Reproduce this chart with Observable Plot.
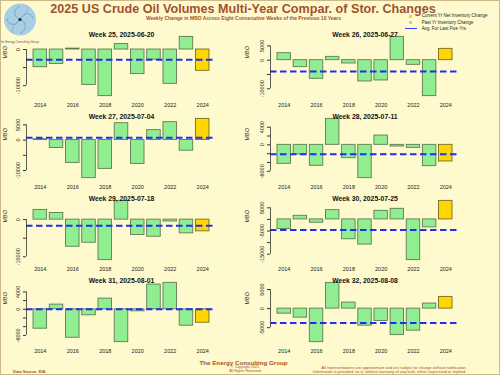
<!DOCTYPE html>
<html><head><meta charset="utf-8">
<script src="https://cdn.jsdelivr.net/npm/d3@7"></script>
<script src="https://cdn.jsdelivr.net/npm/@observablehq/plot@0.6"></script>
<style>
body{margin:0;background:#FFFACD;}
#chart{position:relative;width:500px;height:375px;background:#FFFACD;overflow:hidden;font-family:"Liberation Sans",Arial,Helvetica,sans-serif;}
#frame{position:absolute;left:0;top:0;width:500px;height:375px;box-sizing:border-box;border:1px solid #cbb98c;pointer-events:none;}
.c{position:absolute;white-space:nowrap;line-height:1;transform:translate(-50%,-50%);}
.l{position:absolute;white-space:nowrap;line-height:0.9;transform:translate(0,-50%);}
.panel{position:absolute;}
</style></head>
<body>
<div id="chart">
  <svg id="logo" style="position:absolute;left:2px;top:1px" width="36" height="38" viewBox="0 0 36 38">
    <circle cx="18" cy="18.5" r="16" fill="#a9cfe6"/>
    <path d="M18 18.5 C 22 10, 30 12, 31 18" fill="none" stroke="#5d86a8" stroke-width="0.6"/>
    <path d="M18 18.5 C 26 22, 24 30, 18 32" fill="none" stroke="#5d86a8" stroke-width="0.6"/>
    <path d="M18 18.5 C 14 26, 6 24, 5 18" fill="none" stroke="#5d86a8" stroke-width="0.6"/>
    <path d="M18 18.5 C 10 15, 12 7, 18 5" fill="none" stroke="#5d86a8" stroke-width="0.6"/>
    <path d="M18 18.5 C 24 14, 28 6, 24 4" fill="none" stroke="#7aa0bf" stroke-width="0.5"/>
    <path d="M18 18.5 C 12 23, 8 30, 12 33" fill="none" stroke="#7aa0bf" stroke-width="0.5"/>
    <circle cx="18" cy="18.5" r="1.6" fill="#1e2b3a"/>
  </svg>
  <div class="c" style="left:19px;top:41.5px;font-size:3px;color:#555">The Energy Consulting Group</div>

  <div class="c" style="left:243px;top:8.8px;font-size:12.6px;line-height:0.82;font-weight:bold;color:#A0522D">2025 US Crude Oil Volumes Multi-Year Compar. of Stor. Changes</div>
  <div class="c" style="left:243.5px;top:17.7px;font-size:5px;font-weight:bold;color:#A0522D">Weekly Change in MBO Across Eight Consecutive Weeks of the Previous 10 Years</div>

  <div style="position:absolute;left:409px;top:14.8px;width:3.2px;height:3.2px;background:#FFD700"></div>
  <div class="l" style="left:421.7px;top:16.4px;font-size:4.5px;color:#222">Current Yr Net Inventory Change</div>
  <div style="position:absolute;left:409px;top:21.2px;width:3.2px;height:3.2px;background:#90EE90"></div>
  <div class="l" style="left:421.7px;top:22.8px;font-size:4.5px;color:#222">Past Yr Inventory Change</div>
  <div style="position:absolute;left:405px;top:28.3px;width:11.5px;height:0.8px;background:#3a3aff"></div>
  <div class="l" style="left:421.7px;top:28.7px;font-size:4.5px;color:#222">Avg. For Last Five Yrs</div>

  <div id="panels"></div>

  <div class="c" style="left:243.5px;top:363.3px;font-size:6.2px;line-height:0.85;font-weight:bold;color:#A0522D">The Energy Consulting Group</div>
  <div class="c" style="left:245px;top:368.1px;font-size:3.6px;line-height:0.9;color:#A0522D">© Copyright 2025</div>
  <div class="c" style="left:245px;top:371.7px;font-size:3.6px;line-height:0.9;color:#A0522D">All Rights Reserved</div>
  <div class="l" style="left:13px;top:371.7px;font-size:4px;font-weight:bold;color:#A0522D">Data Source: EIA</div>
  <div class="c" style="left:394px;top:367.8px;font-size:4px;line-height:0.9;color:#A0522D">All representations are approximate and are subject to change without notification.</div>
  <div class="c" style="left:389.5px;top:371.7px;font-size:4px;line-height:0.9;color:#A0522D">Information is provided 'as is' without warranty of any kind, either expressed or implied.</div>
  <div id="frame"></div>
</div>
<script>
// ---- data ----
const years = [2014, 2015, 2016, 2017, 2018, 2019, 2020, 2021, 2022, 2023, 2024];
const currentYear = 2024;
const yearTickLabels = [2014, 2016, 2018, 2020, 2022, 2024];
const weekTitles = ["Week 25, 2025-06-20", "Week 26, 2025-06-27", "Week 27, 2025-07-04", "Week 28, 2025-07-11",
                    "Week 29, 2025-07-18", "Week 30, 2025-07-25", "Week 31, 2025-08-01", "Week 32, 2025-08-08"];
const week25 = [-4900, -4000, 250, -9800, -12900, 1500, -6800, -2800, -9500, 3500, -5900];
const week26 = [2440, -2440, -6510, 1160, -1160, -7440, -7090, 8140, -1630, -12560, 3950];
const week27 = [250, -2610, -7500, -12500, -9460, 5540, -7830, 3260, 5870, -3480, 6960];
const week28 = [-4300, -2190, -4750, 5890, -3020, -7550, 2110, -380, -680, -4830, -3770];
const week29 = [2610, 1800, -7300, -6220, -10900, 5045, -4140, -4600, -500, -3690, -3150];
const week30 = [-4140, 1570, -1430, 4000, -8570, -10860, 3710, 4570, -17570, -3430, 8000];
const week31 = [-4460, 1080, -6540, -1380, 2460, -7550, -460, 5690, 6080, -3770, -3080];
const week32 = [-1320, -2370, -8790, 6750, 1580, -4470, -3250, -6950, -5790, 1320, 3070];
const fiveYrAvg = [-2800, -3950, 760, -2110, -1620, -4570, 0, -3770];
const yTicks = [
  [0, -5000, -10000],
  [5000, 0, -5000, -10000],
  [5000, 0, -5000, -10000],
  [4000, 2000, 0, -2000, -4000, -6000],
  [0, -5000, -10000],
  [5000, 0, -5000, -10000, -15000],
  [4000, 2000, 0, -2000, -4000, -6000],
  [5000, 0, -5000]
];
const yTickLabels = [
  [0, -10000],
  [5000, 0, -10000],
  [5000, 0, -10000],
  [4000, 0, -6000],
  [0, -10000],
  [5000, -5000, -15000],
  [4000, 0, -6000],
  [5000, 0, -5000]
];
const weekValues = [week25, week26, week27, week28, week29, week30, week31, week32];

// ---- drawing ----
const pastFill = "#90EE90", currFill = "#FFD700", barStroke = "#5f7a55", currStroke = "#7a6a20";
const halfW = 5 / 12; // bar half-width in year units (barplot width 1, space 0.2)
const fontFam = "'Liberation Sans', Arial, Helvetica, sans-serif";
const host = document.getElementById("panels");

weekValues.forEach((vals, i) => {
  const col = i % 2, row = Math.floor(i / 2);
  const rows = years.map((y, k) => ({year: y, value: vals[k]}));
  const lo = Math.min(0, d3.min(vals)), hi = Math.max(0, d3.max(vals));
  const yPad = 0.04 * (hi - lo);
  const xa = d3.min(years) - halfW, xb = d3.max(years) + halfW;
  const xPad = 0.04 * (xb - xa);
  const xDom = [xa - xPad, xb + xPad];
  const t = yTicks[i], lbl = yTickLabels[i];
  const tMin = d3.min(t), tMax = d3.max(t);
  const mL = col ? 20 : 26, mR = col ? 41 : 34;
  const plot = Plot.plot({
    width: 250, height: 86,
    marginTop: 10, marginBottom: 12, marginLeft: mL, marginRight: mR,
    style: {background: "transparent", fontFamily: fontFam, fontSize: "5.5px", color: "#222", overflow: "visible"},
    x: {type: "linear", domain: xDom},
    y: {domain: [lo - yPad, hi + yPad]},
    marks: [
      Plot.rect(rows, {filter: d => d.year !== currentYear, x1: d => d.year - halfW, x2: d => d.year + halfW,
        y1: d => 0, y2: d => d.value, fill: pastFill, stroke: barStroke, strokeWidth: 0.9}),
      Plot.rect(rows, {filter: d => d.year === currentYear, x1: d => d.year - halfW, x2: d => d.year + halfW,
        y1: d => 0, y2: d => d.value, fill: currFill, stroke: currStroke, strokeWidth: 0.9}),
      Plot.ruleY([fiveYrAvg[i]], {stroke: "#1e2ef2", strokeWidth: 2, strokeDasharray: "6.5,3.5"}),
      Plot.ruleX([xDom[0]], {y1: d => tMin, y2: d => tMax, stroke: "#333", strokeWidth: 0.8}),
      Plot.axisY({ticks: t, tickSize: 3, tickPadding: 3.5, tickRotate: -90, label: null,
        tickFormat: d => lbl.includes(d) ? String(d) : "", stroke: "#333", fill: "#222"}),
      Plot.axisX({ticks: yearTickLabels, tickSize: 0, tickPadding: 5, label: null,
        tickFormat: d => String(d), fill: "#222"}),
      Plot.text([weekTitles[i]], {frameAnchor: "top", dy: -2, fontWeight: "bold", fontSize: 6.8, fill: "#111"}),
      Plot.text(["MBO"], {frameAnchor: "left", rotate: -90, dx: col ? -23 : -21, dy: -8, fontSize: 5.5, fill: "#222"})
    ]
  });
  const wrap = document.createElement("div");
  wrap.className = "panel";
  wrap.style.left = (col * 250) + "px";
  wrap.style.top = (24 + row * 82) + "px";
  wrap.appendChild(plot);
  host.appendChild(wrap);
});
</script>
</body></html>
